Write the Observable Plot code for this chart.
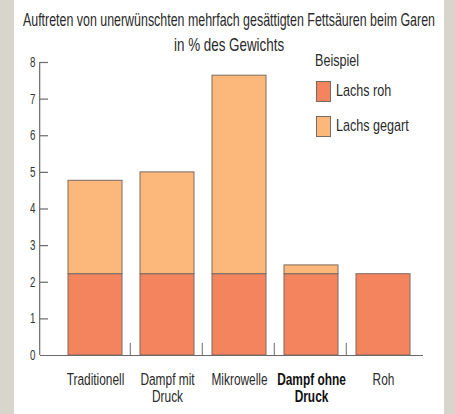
<!DOCTYPE html>
<html>
<head>
<meta charset="utf-8">
<script src="https://cdn.jsdelivr.net/npm/d3@7"></script>
<script src="https://cdn.jsdelivr.net/npm/@observablehq/plot@0.6"></script>
<style>
  html, body { margin: 0; padding: 0; background: #d8d5cc; }
  #card { position: absolute; left: 14px; top: 0; width: 430px; height: 414px; background: #fff; overflow: hidden;
          font-family: "Liberation Sans", Arial, sans-serif; color: #2a2a2a; }
  .t { position: absolute; left: 0; width: 430px; display: flex; justify-content: center; font-size: 18.5px; white-space: nowrap; }
  .t span { display: inline-block; white-space: nowrap; flex: none; transform-origin: 50% 50%; }
  #legend { position: absolute; left: 301px; top: 51px; font-size: 17px; }
  #legend .h { position: absolute; left: 0; top: 0; white-space: nowrap; transform-origin: 0 50%; }
  #legend .item { position: absolute; left: 1px; white-space: nowrap; }
  #legend .sw { position: absolute; left: 0; top: 0; width: 15px; height: 21px; box-sizing: border-box; border: 1px solid #7a6b62; }
  #legend .lab { position: absolute; left: 20px; top: 0px; transform-origin: 0 50%; }
  #chart { position: absolute; left: 0; top: 0; }
</style>
</head>
<body>
<div id="card">
  <div id="chart"></div>
  <div class="t" style="top:9px"><span id="t1">Auftreten von unerwünschten mehrfach gesättigten Fettsäuren beim Garen</span></div>
  <div class="t" style="top:34px"><span id="t2">in % des Gewichts</span></div>
  <div id="legend"></div>
</div>
<script>
const categories = ["Traditionell", "Dampf mit\nDruck", "Mikrowelle", "Dampf ohne\nDruck", "Roh"];
const boldCategory = "Dampf ohne\nDruck";
const seriesNames = ["Lachs roh", "Lachs gegart"];
const seriesColors = ["#f4845e", "#fbb87a"];
const rawValues = [2.22, 2.22, 2.22, 2.22, 2.22];
const cookedExtra = [2.55, 2.78, 5.42, 0.24, 0];
const yTicks = [0, 1, 2, 3, 4, 5, 6, 7, 8];
const legendTitle = "Beispiel";

const rows = [];
categories.forEach((c, i) => {
  rows.push({cat: c, series: seriesNames[0], value: rawValues[i]});
  rows.push({cat: c, series: seriesNames[1], value: cookedExtra[i]});
});

const axisColor = "#6a6a6a";
const W = 430, H = 414;
const mL = 44, mR = 23.5;
const step = (W - mL - mR) / (categories.length);
const condense = 0.7;

const chart = Plot.plot({
  width: W, height: H,
  marginLeft: mL, marginRight: mR, marginTop: 62, marginBottom: 59,
  style: {fontFamily: "'Liberation Sans', Arial, sans-serif", background: "transparent", overflow: "visible"},
  x: {domain: categories, paddingInner: 0.25, paddingOuter: 0.125, axis: null},
  y: {domain: [0, 8], axis: null},
  color: {domain: seriesNames, range: seriesColors},
  marks: [
    Plot.barY(rows.filter(d => d.value > 0), {x: "cat", y: "value", fill: "series", stroke: "#7a6b62", strokeWidth: 1}),
    Plot.ruleY([0], {stroke: axisColor, strokeWidth: 1.2, insetLeft: -18, insetRight: -2.5}),
    Plot.ruleY(yTicks.slice(1), {y: d => d, stroke: axisColor, strokeWidth: 1.2, insetLeft: -18, insetRight: (W - mL - mR) - 8 + 18}),
    Plot.ruleX([categories[0]], {x: d => d, y1: 0, y2: 8, dx: -(step / 2 + 0.125 * step + 10.5), stroke: axisColor, strokeWidth: 1.2}),
    Plot.ruleX(categories.slice(1), {x: d => d, y1: 0, y2: 0.33, dx: -step / 2 - 1, stroke: axisColor, strokeWidth: 1}),
    Plot.text(yTicks, {y: d => d, text: d => String(d), frameAnchor: "left", textAnchor: "end", dx: -23, fontSize: 14, fill: "#333", className: "cond"}),
    Plot.text(categories.filter(c => c !== boldCategory), {x: d => d, y: 0, text: d => d, lineAnchor: "top", dy: 17, fontSize: 17, lineHeight: 1.0, fill: "#2a2a2a", className: "cond"}),
    Plot.text([boldCategory], {x: d => d, y: 0, text: d => d, lineAnchor: "top", dy: 17, fontSize: 17, lineHeight: 1.0, fontWeight: "bold", fill: "#111", className: "cond"})
  ]
});
document.getElementById("chart").appendChild(chart);

// condense SVG texts (the reference uses a condensed typeface)
chart.querySelectorAll(".cond text").forEach(t => {
  const tr = t.getAttribute("transform") || "";
  t.setAttribute("transform", tr + ` scale(${condense},1)`);
});

const legendCondense = 0.74;
const legend = document.getElementById("legend");
const h = document.createElement("div");
h.className = "h"; h.textContent = legendTitle; legend.appendChild(h);
h.style.transform = `scaleX(${legendCondense})`;
seriesNames.forEach((s, i) => {
  const it = document.createElement("div");
  it.className = "item";
  it.style.top = (30 + i * 35) + "px";
  it.innerHTML = `<div class="sw" style="background:${seriesColors[i]}"></div><div class="lab" style="transform:scaleX(${legendCondense})">${s}</div>`;
  legend.appendChild(it);
});

function fit(el, target) {
  const w = el.offsetWidth;
  if (w > 0) el.style.transform = `scaleX(${target / w})`;
}
fit(document.getElementById("t1"), 412);
fit(document.getElementById("t2"), 110);
</script>
</body>
</html>
